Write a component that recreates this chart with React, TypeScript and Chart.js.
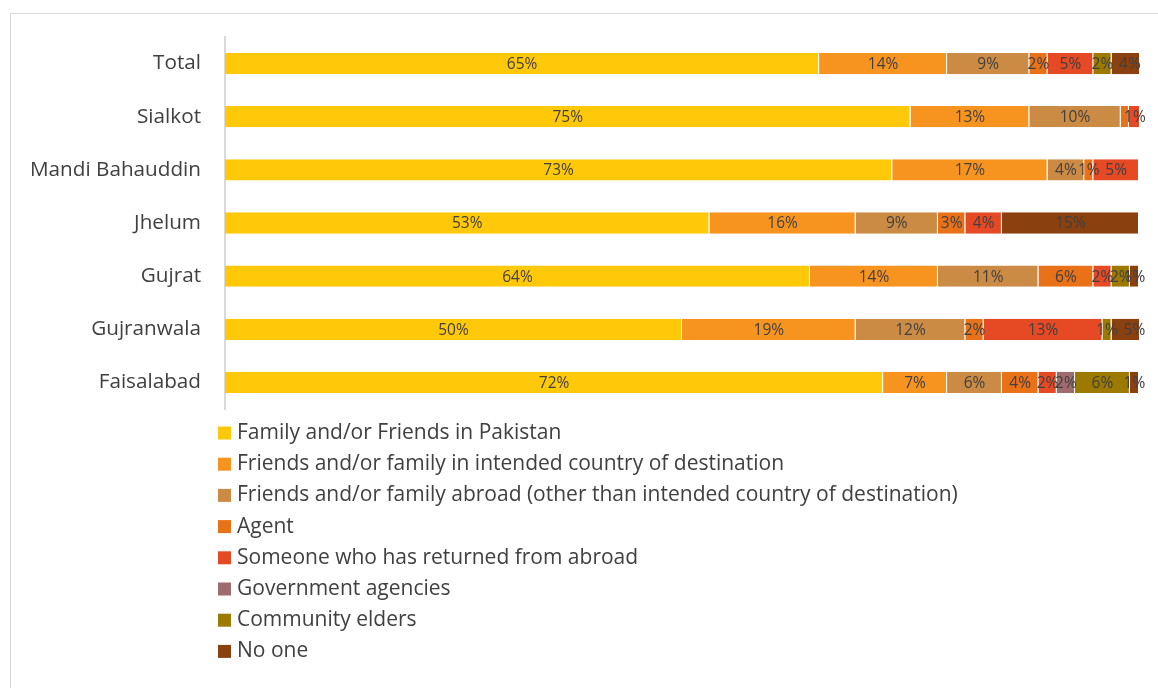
import React, { useEffect, useRef } from "react";
import { Chart, registerables } from "chart.js";

Chart.register(...registerables);

const categories = ["Total", "Sialkot", "Mandi Bahauddin", "Jhelum", "Gujrat", "Gujranwala", "Faisalabad"];

const seriesNames = [
  "Family and/or Friends in Pakistan",
  "Friends and/or family in intended country of destination",
  "Friends and/or family abroad (other than intended country of destination)",
  "Agent",
  "Someone who has returned from abroad",
  "Government agencies",
  "Community elders",
  "No one",
];

const familyPakistan = [65, 75, 73, 53, 64, 50, 72];
const friendsDestination = [14, 13, 17, 16, 14, 19, 7];
const friendsAbroad = [9, 10, 4, 9, 11, 12, 6];
const agent = [2, 0.9, 1, 3, 6, 2, 4];
const returnedAbroad = [5, 1.3, 5, 4, 2, 13, 2];
const government = [0, 0, 0.4, 0, 0, 0, 2];
const communityElders = [2, 0, 0, 0, 2, 1, 6];
const noOne = [4, 0, 0, 15, 1, 5, 1];

const seriesValues = [familyPakistan, friendsDestination, friendsAbroad, agent, returnedAbroad, government, communityElders, noOne];
const seriesColors = ["#FFC90A", "#F7941F", "#CC8B45", "#E97118", "#E54A25", "#9E6B6E", "#9C7A00", "#8B410F"];

const FONT = "'Open Sans', sans-serif";
const TEXT = "#404040";

const segLabels = {
  id: "segLabels",
  afterDatasetsDraw(chart: any) {
    const ctx = chart.ctx;
    ctx.save();
    ctx.font = `15.5px ${FONT}`;
    ctx.fillStyle = TEXT;
    ctx.textAlign = "center";
    ctx.textBaseline = "middle";
    chart.data.datasets.forEach((ds: any, di: number) => {
      const meta = chart.getDatasetMeta(di);
      meta.data.forEach((bar: any, i: number) => {
        const v = ds.data[i];
        if (!v || v < 1) return;
        const p = bar.getProps(["x", "y", "base"], true);
        const cx = (p.x + p.base) / 2;
        ctx.fillText(Math.round(v) + "%", cx, p.y + 1);
      });
    });
    ctx.restore();
  },
};

const vLegend = {
  id: "vLegend",
  beforeDraw(chart: any) {
    const ctx = chart.ctx;
    ctx.save();
    ctx.strokeStyle = "#d9d9d9";
    ctx.lineWidth = 1;
    ctx.strokeRect(10.5, 13.5, 1200, 700);
    ctx.restore();
  },
  afterDraw(chart: any) {
    const ctx = chart.ctx;
    ctx.save();
    ctx.font = `21px ${FONT}`;
    ctx.textBaseline = "middle";
    ctx.textAlign = "left";
    seriesNames.forEach((name, i) => {
      const y = 433 + i * 31.2;
      ctx.fillStyle = seriesColors[i];
      ctx.fillRect(218, y - 6.5, 13, 13);
      ctx.fillStyle = TEXT;
      ctx.fillText(name, 237, y);
    });
    ctx.restore();
  },
};

export default function App() {
  const ref = useRef<HTMLCanvasElement | null>(null);
  useEffect(() => {
    if (!ref.current) return;
    const chart = new Chart(ref.current, {
      type: "bar",
      data: {
        labels: categories,
        datasets: seriesValues.map((vals, i) => ({
          label: seriesNames[i],
          data: vals,
          backgroundColor: seriesColors[i],
          borderColor: "rgba(255,255,255,0.55)",
          borderWidth: { left: 0, right: 1, top: 0, bottom: 0 },
          borderSkipped: false,
          categoryPercentage: 0.8,
          barPercentage: 0.5,
        })),
      },
      options: {
        indexAxis: "y",
        animation: false,
        responsive: false,
        layout: { padding: { left: 10, right: 19, top: 37, bottom: 279 } },
        plugins: { legend: { display: false }, tooltip: { enabled: false } },
        scales: {
          x: { display: false, stacked: true, min: 0, max: 100 },
          y: {
            stacked: true,
            grid: { display: false, drawTicks: false },
            border: { display: true, color: "#d9d9d9", width: 2 },
            ticks: { color: TEXT, font: { family: FONT, size: 20.7 }, padding: 24 },
            afterFit: (s: any) => {
              s.width = 215;
            },
          },
        },
      },
      plugins: [segLabels, vLegend],
    });
    return () => chart.destroy();
  }, []);
  return (
    <div style={{ position: "fixed", left: 0, top: 0, width: 1158, height: 688, background: "#fff" }}>
      <canvas ref={ref} width={1158} height={688} style={{ width: 1158, height: 688 }} />
    </div>
  );
}
